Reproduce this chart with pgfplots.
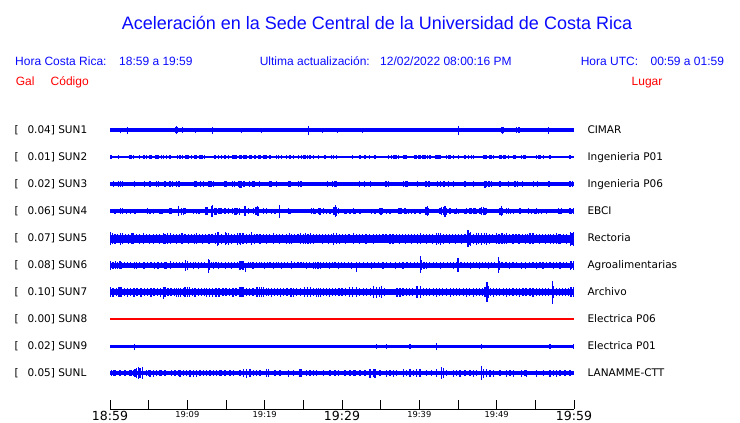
\documentclass[border=0pt]{standalone}
\usepackage{pgfplots}
\pgfplotsset{compat=1.18}
\usepackage{fontspec}
\setmainfont{Liberation Sans}
\newfontfamily\dejavu{DejaVu Sans}
\definecolor{trblue}{RGB}{0,0,255}
\definecolor{txtblue}{RGB}{10,10,255}
\definecolor{txtred}{RGB}{255,0,0}
\newcommand\lab{\dejavu\fontsize{10.5}{12}\selectfont}
\newcommand\bigt{\dejavu\fontsize{12.5}{13}\selectfont}
\newcommand\smt{\dejavu\fontsize{8.3}{9}\selectfont}
\pgfplotsset{
  spk/.style={draw=none, mark=none, forget plot,
    error bars/.cd, y dir=both, y explicit, error mark=none,
    error bar style={draw=trblue, line width=1.2pt}},
  band/.style={trblue, forget plot, mark=none}
}
\begin{document}
\begin{tikzpicture}
\useasboundingbox (0,0) rectangle (740pt,-423pt);
\begin{axis}[
  at={(110pt,-409pt)}, anchor=south west,
  scale only axis, width=464pt, height=294pt,
  xmin=0, xmax=60, ymin=0, ymax=294,
  axis x line*=bottom, axis y line=none,
  xtick={0,10,20,30,40,50,60},
  minor xtick={5,15,25,35,45,55},
  xticklabels={{\bigt 18:59},{\smt 19:09},{\smt 19:19},{\bigt 19:29},{\smt 19:39},{\smt 19:49},{\bigt 19:59}},
  tick align=inside,
  major tick length=9pt, minor tick length=9pt,
  tick style={black, line width=0.9pt},
  axis line style={black, line width=0.9pt},
  xticklabel style={anchor=north, inner sep=0pt, yshift=-2.5pt, text=black},
  clip=false,
]
% ---------- SUN1 (CIMAR)
\addplot[band, line width=3.5pt] coordinates {(0,279) (60,279)};
\addplot[spk] table[row sep=\\, x=m, y=y, y error=e] {m y e\\
1.38 279 2.5\\ 2.24 279 3.5\\ 8.5 279 3\\ 8.62 279 4\\ 8.75 279 3\\ 9.40 279 3\\ 11.08 279 2.5\\ 13.28 279 3.5\\
17.03 279 2.5\\ 19.61 279 2.5\\ 25.64 279 4.5\\ 27.50 279 2.5\\ 29.40 279 2.5\\ 32.68 279 2.5\\ 34.78 279 2.3\\
36.34 279 2.3\\ 39.14 279 2.3\\ 42.54 279 2.3\\ 45.04 279 4.5\\ 50.6 279 3\\ 50.73 279 3.5\\ 50.9 279 3\\
52.59 279 3\\ 52.89 279 3\\ 56.68 279 3.5\\
};
% ---------- SUN2 (Ingenieria P01)
\addplot[band, line width=1.1pt] coordinates {(0,252) (60,252)};
\addplot[spk] table[row sep=\\, x=m, y=y, y error=e] {m y e\\
0.13 252 1.7\\ 1.08 252 1.7\\ 2.59 252 1.7\\ 2.80 252 1.7\\ 3.02 252 1.7\\ 3.79 252 1.7\\ 4.40 252 1.7\\ 4.74 252 1.7\\
5.17 252 1.7\\ 5.39 252 1.7\\ 5.95 252 1.7\\ 6.12 252 1.7\\ 6.25 252 1.7\\ 6.68 252 1.7\\ 6.90 252 1.7\\ 7.33 252 1.7\\
7.76 252 1.7\\ 8.71 252 1.7\\ 9.05 252 1.7\\ 9.40 252 1.7\\ 9.83 252 1.7\\ 10.00 252 1.7\\ 10.13 252 1.7\\ 10.56 252 1.7\\
10.91 252 1.7\\ 11.08 252 1.7\\ 11.21 252 1.7\\ 11.55 252 1.7\\ 11.77 252 1.7\\ 11.98 252 1.7\\ 12.20 252 1.7\\ 13.58 252 1.7\\
14.01 252 1.7\\ 14.44 252 1.7\\ 14.87 252 1.7\\ 15.30 252 1.7\\ 15.82 252 1.7\\ 15.99 252 1.7\\ 16.16 252 1.7\\ 16.38 252 1.7\\
16.81 252 1.7\\ 17.03 252 1.7\\ 17.24 252 1.7\\ 17.46 252 1.7\\ 17.67 252 1.7\\ 18.10 252 1.7\\ 18.32 252 1.7\\ 18.75 252 1.7\\
19.18 252 1.7\\ 19.40 252 1.7\\ 19.91 252 1.7\\ 20.09 252 1.7\\ 20.26 252 1.7\\ 20.69 252 1.7\\ 21.55 252 1.7\\ 21.77 252 1.7\\
22.20 252 1.7\\ 22.84 252 1.7\\ 23.28 252 1.7\\ 23.71 252 1.7\\ 24.35 252 1.7\\ 24.78 252 1.7\\ 25.00 252 1.7\\ 25.22 252 1.7\\
25.52 252 1.7\\ 25.86 252 1.7\\ 26.29 252 1.7\\ 26.94 252 1.7\\ 27.80 252 1.7\\ 28.66 252 1.7\\ 28.88 252 1.7\\ 29.31 252 1.7\\
31.38 252 1.7\\ 32.33 252 1.7\\ 32.97 252 1.7\\ 33.53 252 1.7\\ 34.27 252 1.7\\ 35.99 252 1.7\\ 36.42 252 1.7\\ 36.64 252 1.7\\
36.85 252 1.7\\ 37.07 252 1.7\\ 37.28 252 1.7\\ 37.93 252 1.7\\ 38.15 252 1.7\\ 38.36 252 1.7\\ 39.44 252 1.7\\ 39.66 252 1.7\\
39.87 252 1.7\\ 40.09 252 1.7\\ 40.43 252 1.7\\ 40.60 252 1.7\\ 40.82 252 1.7\\ 41.03 252 1.7\\ 41.38 252 1.7\\ 42.16 252 1.7\\
42.33 252 1.7\\ 42.50 252 1.7\\ 42.67 252 1.7\\ 43.53 252 1.7\\ 43.75 252 1.7\\ 43.97 252 1.7\\ 44.40 252 1.7\\ 45.04 252 1.7\\
45.91 252 1.7\\ 46.34 252 1.7\\ 46.77 252 1.7\\ 46.98 252 1.7\\ 48.28 252 1.7\\ 48.45 252 1.7\\ 48.62 252 1.7\\ 49.14 252 1.7\\
49.35 252 1.7\\ 49.57 252 1.7\\ 50.43 252 1.7\\ 50.65 252 1.7\\ 50.86 252 1.7\\ 51.08 252 1.7\\ 51.51 252 1.7\\ 52.16 252 1.7\\
52.37 252 1.7\\ 53.23 252 1.7\\ 53.45 252 1.7\\ 53.66 252 1.7\\ 55.17 252 1.7\\ 55.39 252 1.7\\ 55.60 252 1.7\\ 56.03 252 1.7\\
56.90 252 1.7\\ 59.48 252 1.7\\
};
% ---------- SUN3 (Ingenieria P06)
\addplot[band, line width=4pt] coordinates {(0,225) (60,225)};
\addplot[spk] table[row sep=\\, x=m, y=y, y error=e] {m y e\\
0.43 225 3\\ 1.08 225 3\\ 1.38 225 3\\ 1.59 225 3\\ 3.15 225 3\\ 4.44 225 3\\ 5.17 225 3\\ 6.03 225 3\\ 6.29 225 3\\
7.11 225 3\\ 7.76 225 3\\ 8.10 225 3\\ 8.62 225 3\\ 8.84 225 3\\ 8.97 225 3\\ 10.99 225 3\\ 11.21 225 3\\ 11.72 225 3\\
12.07 225 3\\ 12.80 225 3\\ 13.06 225 3\\ 13.36 225 3\\ 14.87 225 3\\ 15.09 225 3\\ 15.82 225 3\\ 16.08 225 3\\
16.59 225 3\\ 16.81 225 3.5\\ 17.03 225 3.5\\ 17.24 225 3\\ 17.37 225 3\\ 18.02 225 3\\ 18.45 225 3\\ 18.62 225 3\\
19.31 225 3\\ 20.69 225 3\\ 20.91 225 3\\ 21.55 225 3\\ 23.06 225 3\\ 23.28 225 3\\ 24.35 225 3\\ 24.70 225 3\\
28.10 225 3\\ 28.75 225 3\\ 29.09 225 3\\ 29.31 225 3\\ 32.24 225 3\\ 32.89 225 3\\ 33.71 225 3\\ 35.69 225 3\\
35.99 225 3\\ 37.93 225 3\\ 38.28 225 3\\ 38.49 225 3\\ 39.74 225 3\\ 40.86 225 3\\ 41.25 225 3\\ 42.33 225 3\\
42.76 225 3\\ 43.19 225 3\\ 43.75 225 3\\ 44.40 225 3\\ 45.91 225 3\\ 46.98 225 3\\ 48.49 225 3.5\\ 48.71 225 3\\
49.01 225 3\\ 49.35 225 3\\ 50.43 225 3\\ 51.51 225 3\\ 52.37 225 3\\ 52.67 225 3\\ 53.32 225 3\\ 54.74 225 3\\
55.26 225 3\\ 56.77 225 3\\ 59.48 225 3\\ 59.83 225 3\\
};
% ---------- SUN4 (EBCI)
\addplot[band, line width=3.5pt] coordinates {(0,198) (60,198)};
\addplot[spk] table[row sep=\\, x=m, y=y, y error=e] {m y e\\
0.65 198 2.5\\ 1.38 198 3\\ 1.64 198 3\\ 2.16 198 2.5\\ 2.67 198 2.5\\ 3.23 198 2.5\\ 4.87 198 3\\ 5.17 198 2.5\\
5.60 198 2.5\\ 6.38 198 2.5\\ 6.59 198 2.5\\ 6.81 198 2.5\\ 7.76 198 3\\ 7.97 198 3\\ 8.84 198 5\\ 9.27 198 3.5\\
9.48 198 3.5\\ 9.70 198 3\\ 10.78 198 2.5\\ 11.21 198 2.5\\ 11.51 198 2.5\\ 12.41 198 4\\ 12.59 198 4\\ 13.15 198 5.5\\
13.28 198 6\\ 13.58 198 3.5\\ 13.79 198 3.5\\ 14.01 198 3\\ 14.22 198 3\\ 14.44 198 3\\ 14.87 198 3\\ 15.30 198 3\\
15.86 198 3\\ 16.08 198 3.5\\ 16.29 198 3.5\\ 16.51 198 3\\ 16.72 198 3.5\\ 17.46 198 5\\ 17.89 198 3\\ 18.53 198 3\\
18.88 198 4\\ 19.05 198 5\\ 19.22 198 4.5\\ 19.83 198 3\\ 20.26 198 3\\ 20.91 198 2.5\\ 21.34 198 2.5\\ 21.90 198 6.5\\
23.06 198 3\\ 23.28 198 2.5\\ 26.08 198 3\\ 26.29 198 3\\ 26.51 198 2.5\\ 26.94 198 3\\ 27.16 198 3.5\\ 27.59 198 3\\
28.02 198 2.5\\ 28.45 198 2.5\\ 28.97 198 4\\ 29.14 198 6\\ 29.31 198 4.5\\ 29.53 198 3\\ 30.60 198 2.5\\ 30.39 198 2.5\\
31.03 198 2.5\\ 31.47 198 3\\ 31.68 198 2.5\\ 32.33 198 2.5\\ 33.84 198 2.5\\ 34.27 198 2.5\\ 34.83 198 3\\ 35.04 198 3.5\\
35.26 198 3\\ 35.78 198 2.5\\ 36.21 198 2.5\\ 37.28 198 3\\ 37.50 198 3\\ 37.72 198 3\\ 38.15 198 3\\ 38.36 198 2.5\\
38.58 198 2.5\\ 39.01 198 2.5\\ 39.44 198 2.5\\ 40.09 198 2.5\\ 40.86 198 4\\ 41.03 198 5\\ 41.21 198 3.5\\ 42.67 198 3\\
42.89 198 4\\ 43.10 198 4\\ 43.32 198 5.5\\ 43.53 198 3.5\\ 43.97 198 3\\ 44.61 198 2.5\\ 44.83 198 3\\ 45.04 198 2.5\\
45.91 198 2.5\\ 46.12 198 3\\ 46.55 198 3\\ 46.77 198 3\\ 46.98 198 3\\ 47.20 198 3\\ 47.41 198 2.5\\ 47.84 198 3\\
48.06 198 4\\ 48.28 198 4\\ 48.49 198 3.5\\ 48.71 198 3\\ 50.43 198 3.5\\ 50.60 198 5\\ 50.78 198 3.5\\ 51.29 198 3\\
51.51 198 3\\ 51.81 198 2.5\\ 52.16 198 2.5\\ 53.02 198 3\\ 54.09 198 3\\ 54.53 198 2.5\\ 54.96 198 2.5\\ 55.17 198 3\\
55.39 198 2.5\\ 55.82 198 2.5\\ 56.47 198 2.5\\ 57.97 198 3\\ 58.19 198 2.5\\ 58.41 198 3\\ 59.48 198 3\\ 59.70 198 2.5\\
59.91 198 3\\
};
% ---------- SUN5 (Rectoria)
\addplot[band, line width=8pt] coordinates {(0,170.5) (60,170.5)};
\addplot[spk] table[row sep=\\, x=m, y=y, y error=e] {m y e\\
0.1 170.5 6.5\\ 0.3 170.5 5.5\\ 0.65 170.5 5\\ 1.0 170.5 4.6\\ 1.35 170.5 6\\ 1.6 170.5 5.5\\ 2.0 170.5 4.8\\ 2.4 170.5 5\\
2.85 170.5 5.5\\ 3.0 170.5 5.2\\ 3.4 170.5 4.6\\ 3.8 170.5 5\\ 4.3 170.5 5.5\\ 4.7 170.5 4.6\\ 5.1 170.5 5\\ 5.6 170.5 5\\
6.0 170.5 4.6\\ 6.4 170.5 5\\ 6.9 170.5 5.5\\ 7.1 170.5 5\\ 7.4 170.5 5.5\\ 7.8 170.5 5.5\\ 8.2 170.5 4.8\\ 8.6 170.5 5\\
9.0 170.5 4.6\\ 9.3 170.5 5.5\\ 9.7 170.5 4.8\\ 10.1 170.5 5\\ 10.5 170.5 4.6\\ 10.9 170.5 5\\ 11.2 170.5 5.5\\ 11.6 170.5 4.8\\
12.0 170.5 5\\ 12.4 170.5 4.6\\ 12.8 170.5 5\\ 13.2 170.5 4.8\\ 13.6 170.5 5.5\\ 13.85 170.5 7\\ 14.0 170.5 6.5\\ 14.4 170.5 5\\
14.9 170.5 6.5\\ 15.1 170.5 5.5\\ 15.3 170.5 6\\ 15.7 170.5 5\\ 16.1 170.5 4.8\\ 16.45 170.5 6\\ 16.7 170.5 5.5\\ 16.9 170.5 6\\
17.2 170.5 5.5\\ 17.6 170.5 5\\ 18.0 170.5 4.8\\ 18.3 170.5 6.5\\ 18.7 170.5 5\\ 19.0 170.5 4.8\\ 19.4 170.5 5\\ 19.8 170.5 4.6\\
20.2 170.5 5\\ 20.6 170.5 4.8\\ 21.1 170.5 5.5\\ 21.5 170.5 4.8\\ 21.9 170.5 5\\ 22.3 170.5 4.6\\ 22.8 170.5 5\\ 23.2 170.5 5.2\\
23.5 170.5 5\\ 23.9 170.5 4.6\\ 24.3 170.5 4.8\\ 24.6 170.5 5.5\\ 25.0 170.5 5\\ 25.3 170.5 5.5\\ 25.6 170.5 5\\ 25.9 170.5 5.5\\
26.3 170.5 5\\ 26.7 170.5 4.6\\ 27.1 170.5 4.8\\ 27.5 170.5 5\\ 27.9 170.5 4.6\\ 28.3 170.5 5\\ 28.6 170.5 4.8\\ 28.9 170.5 6\\
29.3 170.5 5.5\\ 29.7 170.5 5\\ 30.1 170.5 4.6\\ 30.5 170.5 5\\ 30.9 170.5 4.8\\ 31.5 170.5 5.5\\ 31.9 170.5 4.8\\ 32.3 170.5 5\\
32.7 170.5 4.6\\ 33.1 170.5 5\\ 33.6 170.5 4.8\\ 34.1 170.5 5\\ 34.5 170.5 4.6\\ 34.9 170.5 4.8\\ 35.3 170.5 4.6\\ 35.7 170.5 4.8\\
36.2 170.5 5\\ 36.6 170.5 5\\ 37.0 170.5 4.6\\ 37.4 170.5 5\\ 37.8 170.5 4.8\\ 38.2 170.5 5\\ 38.6 170.5 4.6\\ 39.0 170.5 5\\
39.4 170.5 4.8\\ 39.8 170.5 5\\ 40.1 170.5 5.5\\ 40.5 170.5 4.8\\ 40.9 170.5 5\\ 41.3 170.5 4.6\\ 41.7 170.5 5\\ 42.2 170.5 6\\
42.5 170.5 5.5\\ 42.7 170.5 6\\ 43.1 170.5 5\\ 43.5 170.5 4.8\\ 43.9 170.5 5\\ 44.3 170.5 4.6\\ 44.7 170.5 5\\ 45.1 170.5 4.8\\
45.5 170.5 5\\ 45.9 170.5 4.6\\ 46.3 170.5 8.2\\ 46.45 170.5 6\\ 46.6 170.5 7\\ 47.0 170.5 5\\ 47.4 170.5 6\\ 47.7 170.5 5.5\\
48.0 170.5 6\\ 48.4 170.5 5.5\\ 48.7 170.5 6\\ 49.1 170.5 5\\ 49.5 170.5 4.8\\ 50.0 170.5 5.5\\ 50.3 170.5 5\\ 50.7 170.5 5.5\\
51.0 170.5 5\\ 51.3 170.5 5.5\\ 51.7 170.5 4.8\\ 52.1 170.5 5\\ 52.5 170.5 4.6\\ 52.9 170.5 5\\ 53.3 170.5 4.8\\ 53.7 170.5 5\\
54.0 170.5 4.8\\ 54.3 170.5 5.5\\ 54.7 170.5 5.5\\ 55.1 170.5 4.8\\ 55.5 170.5 5\\ 55.9 170.5 4.6\\ 56.3 170.5 5\\ 56.7 170.5 4.8\\
57.0 170.5 5\\ 57.3 170.5 5\\ 57.7 170.5 5.5\\ 58.0 170.5 5\\ 58.2 170.5 5\\ 58.6 170.5 4.8\\ 59.0 170.5 5\\ 59.5 170.5 7\\
59.75 170.5 6\\ 59.9 170.5 7\\
};
% ---------- SUN6 (Agroalimentarias)
\addplot[band, line width=5pt] coordinates {(0,144) (60,144)};
\addplot[spk] table[row sep=\\, x=m, y=y, y error=e] {m y e\\
0.1 144 4.5\\ 0.4 144 3.5\\ 0.7 144 4\\ 1.0 144 3.5\\ 1.3 144 4\\ 1.5 144 3.5\\ 1.9 144 3\\ 2.3 144 3.2\\ 2.7 144 3\\
3.2 144 3.5\\ 3.4 144 3.5\\ 3.8 144 3\\ 4.3 144 3.5\\ 4.5 144 3.5\\ 4.9 144 3\\ 5.3 144 3.2\\ 5.8 144 3.5\\ 6.1 144 3.5\\
6.3 144 3.5\\ 6.7 144 3\\ 7.1 144 3.5\\ 7.3 144 3.5\\ 7.8 144 4\\ 8.2 144 3\\ 8.6 144 3.2\\ 9.0 144 3\\ 9.4 144 3.2\\
9.8 143.7 5.3\\ 10.0 144 4.5\\ 10.4 144 3\\ 10.8 144 3.5\\ 11.1 144 3\\ 11.4 144 3.5\\ 11.8 144 3\\ 12.2 144 3.2\\
12.7 143.2 6.9\\ 12.85 144 5\\ 13.1 144 3\\ 13.4 144 3.5\\ 13.7 144 3\\ 14.0 144 3.5\\ 14.4 144 3\\ 14.9 144 3.5\\
15.3 144 3\\ 15.7 144 3.5\\ 16.1 144 3\\ 16.5 144 3.2\\ 16.8 144 4.5\\ 17.0 144 4\\ 17.2 144 4.5\\ 17.5 142 4.5\\
17.9 144 3\\ 18.2 144 3.2\\ 18.5 144 3.5\\ 18.9 144 3\\ 19.3 144 3.2\\ 19.6 144 3\\ 20.0 144 3.5\\ 20.4 144 3\\
20.7 144 3.2\\ 21.1 144 3.5\\ 21.5 144 3\\ 21.8 144 3.2\\ 22.2 144 3.5\\ 22.6 144 3\\ 23.0 144 3.2\\ 23.5 144 4\\
23.9 144 3\\ 24.3 144 3.2\\ 24.7 144 3\\ 25.0 144 3.2\\ 25.4 144 3.5\\ 25.8 144 3\\ 26.3 144 3.5\\ 26.6 144 3.5\\
26.9 144 3.5\\ 27.2 144 3.5\\ 27.6 144 3\\ 28.0 144 3.2\\ 28.4 144 3.5\\ 28.8 144 3\\ 29.1 144 3.2\\ 29.5 144 3.5\\
29.9 144 3\\ 30.3 144 3.2\\ 30.8 144 3\\ 31.25 144 3.5\\ 31.9 142.5 5\\ 32.3 144 3\\ 32.8 144 3.2\\ 33.3 144 3\\
33.8 144 3.5\\ 34.2 144 3\\ 34.7 144 3.2\\ 35.3 144 3.5\\ 35.8 144 3\\ 36.3 144 3.2\\ 36.9 144 3.5\\ 37.4 144 3\\
37.9 144 3.5\\ 38.4 144 3\\ 38.9 144 3.2\\ 39.4 144 3\\ 39.8 144 3.2\\ 40.1 144.5 8.8\\ 40.3 144 5\\ 40.6 144 3.5\\
40.9 144 3.5\\ 41.3 144 3\\ 41.8 144 3.2\\ 42.2 144 3\\ 42.7 144 3.5\\ 43.1 144 3\\ 43.6 144 3.2\\ 44.0 144 3\\
44.4 144 3.5\\ 44.8 144 3\\ 45.0 144.2 7.2\\ 45.4 144 3\\ 45.8 144 3.2\\ 46.2 144 3\\ 46.6 144 3.5\\ 47.0 144 3\\
47.4 144 3.2\\ 47.8 144 3.5\\ 48.2 144 3\\ 48.6 144 3.2\\ 48.9 144 3.5\\ 49.3 144 3\\ 49.7 144 3.2\\ 50.2 144 8.3\\
50.35 144 4.5\\ 50.7 144 3\\ 51.2 144 3.2\\ 51.7 144 3.5\\ 52.1 144 3\\ 52.6 144 3.2\\ 53.2 144 3.5\\ 53.7 144 3.5\\
54.2 144 3\\ 54.7 144 3.2\\ 55.2 144 3.5\\ 55.6 144 3\\ 56.0 144 3.5\\ 56.4 144 3\\ 56.9 144 3.2\\ 57.3 144 3.5\\
57.7 144 3\\ 58.2 144 3.5\\ 58.6 144 3\\ 59.0 144 3.2\\ 59.5 144 4.5\\ 59.7 144 4\\ 59.9 144 4.5\\
};
% ---------- SUN7 (Archivo)
\addplot[band, line width=6.5pt] coordinates {(0,117) (60,117)};
\addplot[spk] table[row sep=\\, x=m, y=y, y error=e] {m y e\\
0.1 117 5\\ 0.4 117 4.5\\ 0.8 117 4\\ 1.1 117 5\\ 1.3 117 5\\ 1.5 117 5\\ 1.9 117 4.2\\ 2.3 117 4.5\\ 2.7 117 4\\
3.1 117 4.5\\ 3.5 117 4.2\\ 3.9 117 4.5\\ 4.1 117 4.5\\ 4.5 117 4\\ 4.9 117 4.2\\ 5.3 117 4.5\\ 5.7 117 4\\ 6.1 117 4.2\\
6.5 117 4.5\\ 6.9 116.2 6.2\\ 7.1 117 5\\ 7.5 117 4\\ 7.9 117 4.2\\ 8.3 117 4\\ 8.6 117 4.5\\ 8.9 117 4.5\\ 9.1 117 4.5\\
9.5 117 4.2\\ 9.7 117 5\\ 10.0 117 5\\ 10.3 117 5\\ 10.7 117 4.2\\ 11.0 117 4.5\\ 11.4 117 4\\ 11.8 117 4.2\\ 12.2 117 4\\
12.5 117 4.5\\ 12.9 117 4.5\\ 13.3 117 4.5\\ 13.7 117 4.5\\ 14.0 117 4.5\\ 14.2 117 4.5\\ 14.6 117 4\\ 15.0 117 4.2\\
15.5 117 4\\ 15.9 117 4.5\\ 16.3 117 4\\ 16.8 117 5\\ 17.0 117 5\\ 17.2 117 5\\ 17.6 117 4\\ 18.0 117 4.2\\ 18.5 117 4\\
19.0 117 5\\ 19.3 117 5\\ 19.6 117 5\\ 19.8 117 5\\ 20.2 117 4\\ 20.5 117 4.2\\ 20.9 117 4.5\\ 21.3 117 4\\ 21.7 117 4.2\\
22.0 117 4.5\\ 22.4 117 4\\ 22.9 117 4.2\\ 23.3 117 4.5\\ 23.5 117 4.5\\ 23.7 117 4.5\\ 24.1 117 4\\ 24.6 117 4.2\\
25.2 117 5\\ 25.5 117 5\\ 25.9 117 5\\ 26.3 117 4.2\\ 26.7 117 4.5\\ 27.0 117 4.5\\ 27.2 117 4.5\\ 27.6 117 4\\ 28.0 117 4.2\\
28.4 117 4.5\\ 28.8 117 4\\ 29.2 117 4.2\\ 29.6 117 4\\ 30.0 117 4.2\\ 30.5 117 4\\ 31.0 117 5\\ 31.4 117 5\\ 31.9 117 5\\
32.3 117 4.2\\ 32.8 117 4\\ 33.2 117 4.2\\ 33.7 117 4\\ 34.1 117 6\\ 34.5 117 5.5\\ 34.8 117 5\\ 35.1 117 6\\ 35.5 117 4\\
37.1 117 4.5\\ 37.5 117 4.5\\ 37.9 117 4\\ 38.3 117 4.2\\ 38.7 117 4\\ 39.1 117 4.2\\ 39.7 117 6\\ 40.1 117 6\\ 40.5 117 4\\
40.9 117 4.2\\ 41.3 117 4\\ 41.8 117 4.2\\ 42.2 117 4.5\\ 42.6 117 4\\ 43.0 117 4.2\\ 43.5 117 4\\ 44.0 117 4.5\\ 44.4 117 4\\
44.8 117 4.2\\ 45.2 117 4\\ 45.7 117 4.2\\ 46.1 117 4.5\\ 46.5 117 4\\ 47.0 117 4.5\\ 47.4 117 4\\ 47.8 117 4.2\\ 48.2 117 4\\
48.5 117 5\\ 48.75 117 10\\ 48.9 117 6\\ 49.2 117 4\\ 49.6 117 4.5\\ 50.0 117 4\\ 50.4 117 4.2\\ 50.9 117 4\\ 51.3 117 4.5\\
51.7 117 4\\ 52.1 117 4.2\\ 52.6 117 4\\ 53.0 117 4.5\\ 53.4 117 4\\ 53.8 117 4.2\\ 54.3 117 4\\ 54.7 117 4.5\\ 55.1 117 4\\
55.5 117 4.2\\ 55.9 117 4\\ 56.3 117 4.2\\ 56.7 117 4\\ 57.2 116.5 11.5\\ 57.4 117 6\\ 57.7 117 4\\ 58.1 117 4.2\\ 58.5 117 4\\
58.9 117 4.2\\ 59.3 117 4\\ 59.5 117 5\\ 59.7 117 5\\ 59.9 117 5\\
};
% ---------- SUN8 (Electrica P06)
\addplot[red, line width=1.2pt, forget plot] coordinates {(0,90) (60,90)};
% ---------- SUN9 (Electrica P01)
\addplot[band, line width=3.6pt] coordinates {(0,62.6) (60,62.6)};
\addplot[spk] table[row sep=\\, x=m, y=y, y error=e] {m y e\\
3.2 62 2.8\\ 34.5 62.6 2.3\\ 35.8 62.6 2.1\\ 38.8 62.6 2.3\\ 42.2 62.6 3.5\\ 48.06 62.6 2.1\\ 56.9 62.6 2.3\\ 59.9 62.6 2.5\\
};
% ---------- SUNL (LANAMME-CTT)
\addplot[band, line width=4pt] coordinates {(0,36) (60,36)};
\addplot[spk] table[row sep=\\, x=m, y=y, y error=e] {m y e\\
0.2 36 3\\ 0.43 36 3\\ 0.65 36 3\\ 1.29 36 3\\ 1.94 36 3\\ 2.59 36 3\\ 2.8 36 3\\ 3.02 36 3\\ 3.23 36 4\\ 3.45 36 5\\
3.66 35.7 6\\ 3.88 36 5\\ 4.22 35.7 6\\ 4.74 36 3\\ 4.96 36 3\\ 5.17 36 3.5\\ 5.6 36 3.5\\ 6.03 36 3\\ 6.47 36 3\\
6.68 36 3\\ 7.11 36 3\\ 7.97 36 3\\ 8.41 36 3\\ 8.84 36 3\\ 9.05 36 3.5\\ 9.48 36 3\\ 9.91 36 3\\ 10.34 36 3.5\\
10.78 36 3.5\\ 11.21 36 3.5\\ 11.64 36 3\\ 12.07 36 3\\ 12.5 36 3\\ 12.93 36 3\\ 13.36 36 3\\ 13.79 36 3\\ 14.22 36 3\\
14.44 36 3\\ 14.87 36 3\\ 15.52 36 3\\ 15.95 36 3\\ 16.81 36 3\\ 17.24 36 4\\ 17.67 36 4.5\\ 18.1 36 4\\ 18.53 36 3\\
18.97 36 3\\ 19.4 36 3\\ 20.26 36 4\\ 20.47 36 4\\ 21.34 36 3\\ 21.98 36 3\\ 23.06 36 3.5\\ 23.71 36 3\\ 24.57 36 4\\
24.78 36 4\\ 25.43 36 3\\ 25.86 36 3\\ 26.29 36 3\\ 26.72 36 3\\ 27.59 36 3\\ 28.45 36 3\\ 29.09 36 3\\ 29.53 36 3\\
30.39 36 3\\ 31.03 36 3\\ 31.47 36 3\\ 31.68 36 3\\ 32.33 36 3\\ 32.97 36 3\\ 33.62 36 4.5\\ 34.05 36 4\\ 34.27 36 4.5\\
34.91 36 3\\ 35.78 36 3.5\\ 36.21 36 3\\ 36.64 36 3.5\\ 37.07 36 3\\ 37.93 36 4\\ 38.36 36 3\\ 38.79 36 4\\ 39.22 36 3\\
39.66 36 4\\ 40.09 36 4\\ 40.95 36 3\\ 41.59 36 3\\ 42.24 36 4\\ 42.89 36 6\\ 43.10 36 5\\ 43.53 36 3\\ 44.4 36 3.5\\
44.83 36 3\\ 45.26 36 3.5\\ 45.91 36 3\\ 46.55 36 3\\ 46.98 36 3.5\\ 47.41 36 3\\ 48.06 35.7 7\\ 48.28 36 4.5\\ 48.71 36 4\\
49.14 36 3.5\\ 49.57 36 3.5\\ 50.43 36 3\\ 51.29 36 3.5\\ 51.72 36 3\\ 52.16 36 3.5\\ 53.23 36 3.5\\ 53.66 36 3\\
53.88 36 3.5\\ 55.17 36 3.5\\ 56.03 36 3\\ 56.9 36 3.5\\ 57.33 36 3\\ 57.76 36 3.5\\ 58.19 36 3\\ 58.84 36 3\\ 59.48 36 3\\
};
\end{axis}
% ---------- texts
\node[anchor=base, inner sep=0pt, text=txtblue, font=\fontsize{18}{20}\selectfont] at (377pt,-29.5pt) {Aceleración en la Sede Central de la Universidad de Costa Rica};
\begin{scope}[every node/.style={anchor=base west, inner sep=0pt, font=\fontsize{12}{14}\selectfont}]
\node[text=txtblue] at (15pt,-65pt) {Hora Costa Rica:};
\node[text=txtblue] at (119pt,-65pt) {18:59 a 19:59};
\node[text=txtblue] at (259.6pt,-65pt) {Ultima actualización:};
\node[text=txtblue] at (380pt,-65pt) {12/02/2022 08:00:16 PM};
\node[text=txtblue] at (580.6pt,-65pt) {Hora UTC:};
\node[text=txtblue] at (650.4pt,-65pt) {00:59 a 01:59};
\node[text=txtred] at (15.6pt,-85pt) {Gal};
\node[text=txtred] at (50.5pt,-85pt) {Código};
\node[text=txtred] at (631.5pt,-85pt) {Lugar};
\end{scope}
\foreach \yy/\val/\code/\place in {130/0.04/SUN1/CIMAR, 157/0.01/SUN2/Ingenieria P01, 184/0.02/SUN3/Ingenieria P06, 211/0.06/SUN4/EBCI, 238/0.07/SUN5/Rectoria, 265/0.08/SUN6/Agroalimentarias, 292/0.10/SUN7/Archivo, 319/0.00/SUN8/Electrica P06, 346/0.02/SUN9/Electrica P01, 373/0.05/SUNL/LANAMME-CTT}{
  \node[anchor=base west, inner sep=0pt, font=\lab] at (14.3pt,{-(\yy+3.8)*1pt}) {[};
  \node[anchor=base west, inner sep=0pt, font=\lab] at (27.3pt,{-(\yy+3.8)*1pt}) {\val] \code};
  \node[anchor=base west, inner sep=0pt, font=\lab] at (587.3pt,{-(\yy+3.8)*1pt}) {\place};
}
\end{tikzpicture}
\end{document}
